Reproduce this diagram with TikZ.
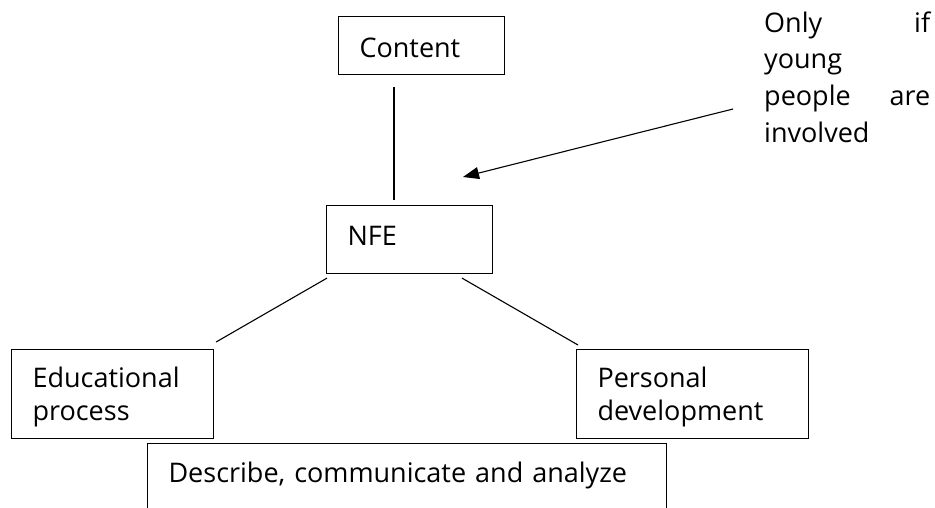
\documentclass[tikz,border=0pt]{standalone}
\usepackage{fontspec}
\setmainfont{Open Sans}
\usetikzlibrary{calc,arrows.meta}
\begin{document}
\begin{tikzpicture}[x=1pt,y=-1pt,
  box/.style={draw, line width=1.1pt, anchor=north west, inner xsep=21pt, inner ysep=0pt, align=left, font=\fontsize{27}{33}\selectfont},
  conn/.style={line width=1.1pt},
  notetext/.style={anchor=north west, inner sep=0pt, align=left, text width=166pt, text height=32pt, font=\fontsize{27}{36.7}\selectfont}
]
\useasboundingbox (0,0) rectangle (935,508);
\clip (0,0) rectangle (935,508);
\node[box, text width=124pt, text height=41pt, text depth=17pt] (content) at (338,16) {Content};
\node[box, text width=124pt, text height=40pt, text depth=28pt] (nfe) at (326,205) {NFE};
\node[box, text width=160pt, text height=38pt, text depth=51pt] (edu) at (11,349) {Educational\\process};
\node[box, text width=190pt, text height=38pt, text depth=51pt] (pers) at (576,349) {Personal\\development};
\node[box, text width=477pt, text height=39pt, text depth=100pt] (desc) at (147,443) {Describe, communicate and analyze};
\node[notetext] (note) at (764,0) {Only\hfill if\\young\\people\hfill are\\involved};
\coordinate (tip) at (463,177);
\draw[conn] ($(content.south west)+(56,12)$) -- ($(nfe.north west)+(68,-5)$);
\draw[conn] ($(nfe.south west)+(1,4)$) -- ($(edu.north east)+(2,-7)$);
\draw[conn] ($(nfe.south west)+(136,4)$) -- ($(pers.north west)+(2,-4)$);
\draw[conn, -{Triangle[length=16pt,width=12pt]}] ($(note.north west)+(-31,109)$) -- (tip);
\end{tikzpicture}
\end{document}
